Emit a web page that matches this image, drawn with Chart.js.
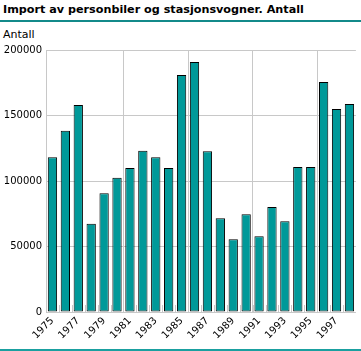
<!DOCTYPE html>
<html>
<head>
<meta charset="utf-8">
<script src="https://cdn.jsdelivr.net/npm/chart.js@4/dist/chart.umd.min.js"></script>
<style>
  html, body { margin: 0; padding: 0; background: #fff; }
  #wrap { position: relative; width: 361px; height: 351px; overflow: hidden; }
  #title { position: absolute; left: 3px; top: 3px; font: bold 11.2px "DejaVu Sans", sans-serif; color: #000; white-space: nowrap; }
  #rule1 { position: absolute; left: 0; top: 20px; width: 361px; height: 2px; background: #138a8a; }
  #unit { position: absolute; left: 3px; top: 28px; font: 11px "DejaVu Sans", sans-serif; color: #000; }
  #rule2 { position: absolute; left: 0; top: 349px; width: 361px; height: 2px; background: #1aa0a0; }
  canvas { position: absolute; left: 0; top: 0; }
</style>
</head>
<body>
<div id="wrap">
  <div id="title">Import av personbiler og stasjonsvogner. Antall</div>
  <div id="rule1"></div>
  <div id="unit">Antall</div>
  <canvas id="c" width="361" height="351"></canvas>
  <div id="rule2"></div>
</div>
<script>
const years = ["1975","1976","1977","1978","1979","1980","1981","1982","1983","1984","1985","1986","1987","1988","1989","1990","1991","1992","1993","1994","1995","1996","1997","1998"];
const imports = [118200,138300,158000,67300,90700,102400,110000,123000,118200,110000,181000,190800,122800,71600,55500,74600,57800,80200,69300,110600,110600,175500,154900,158700];
const yTicks = [0,50000,100000,150000,200000];

const innerTicks = {
  id: 'innerTicks',
  beforeDatasetsDraw(chart) {
    const x = chart.scales.x, ctx = chart.ctx, b = chart.chartArea.bottom;
    ctx.save();
    ctx.strokeStyle = '#c8c8c8';
    ctx.lineWidth = 1;
    for (let i = 1; i < years.length; i++) {
      const px = Math.round((x.getPixelForValue(i - 1) + x.getPixelForValue(i)) / 2) + 0.5;
      ctx.beginPath();
      ctx.moveTo(px, b);
      ctx.lineTo(px, b - 7);
      ctx.stroke();
    }
    ctx.restore();
  }
};

new Chart(document.getElementById('c'), {
  type: 'bar',
  data: {
    labels: years,
    datasets: [{
      data: imports,
      backgroundColor: '#009999',
      borderColor: '#000000',
      borderWidth: 1,
      borderSkipped: false,
      barPercentage: 0.72,
      categoryPercentage: 1.0
    }]
  },
  options: {
    responsive: false,
    animation: false,
    devicePixelRatio: 1,
    layout: { padding: { top: 50, right: 3, left: 0, bottom: 0 } },
    plugins: { legend: { display: false }, tooltip: { enabled: false } },
    scales: {
      x: {
        grid: {
          offset: true,
          color: (c) => (c.index % 5 === 1 && c.index > 1) ? '#c8c8c8' : 'rgba(0,0,0,0)',
          drawTicks: false
        },
        border: { display: false },
        ticks: {
          autoSkip: false,
          maxRotation: 45,
          minRotation: 45,
          padding: 3,
          color: '#000',
          font: { family: 'DejaVu Sans', size: 10 },
          callback: function(v, i) { return i % 2 === 0 ? years[i] : ''; }
        },
        afterFit: (s) => { s.height = 39; }
      },
      y: {
        min: 0,
        max: 200000,
        afterBuildTicks: (s) => { s.ticks = yTicks.map(v => ({ value: v })); },
        grid: { color: '#c8c8c8', drawTicks: false },
        border: { display: true, color: '#c8c8c8' },
        ticks: {
          padding: 4,
          color: '#000',
          font: { family: 'DejaVu Sans', size: 10 },
          callback: (v) => String(v)
        },
        afterFit: (s) => { s.width = 46; }
      }
    }
  },
  plugins: [innerTicks]
});
</script>
</body>
</html>
